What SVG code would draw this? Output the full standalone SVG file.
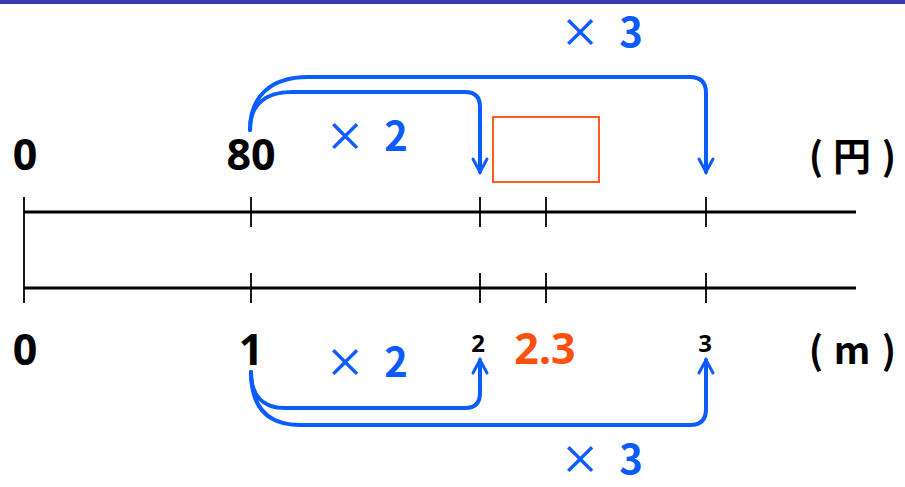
<svg xmlns="http://www.w3.org/2000/svg" width="905" height="487" viewBox="0 0 905 487">
<style>
.ax{stroke:#000;stroke-width:3;fill:none}
.tk{stroke:#000;stroke-width:1.8;fill:none}
.ar{stroke:#0a5cff;stroke-width:4;fill:none;stroke-linecap:round;stroke-linejoin:round}
.lb{font-family:"Noto Sans","Noto Sans CJK JP",sans-serif;font-weight:bold;fill:#000}
.un{font-family:"Noto Sans CJK JP",sans-serif;font-weight:bold;fill:#000;font-size:38px}
.bl{font-family:"Noto Sans CJK JP",sans-serif;font-weight:500;fill:#0a5cff;font-size:40px}
.bd{font-weight:bold}
</style>
<defs>
<marker id="ah" viewBox="0 0 20 20" refX="16" refY="10" markerWidth="20" markerHeight="20" markerUnits="userSpaceOnUse" orient="auto">
<path d="M3,3 L16,10 L3,17" fill="none" stroke="#0a5cff" stroke-width="3" stroke-linejoin="miter" stroke-linecap="round"/>
</marker>
</defs>
<rect x="0" y="0" width="905" height="487" fill="#fff"/>
<rect x="0" y="0" width="905" height="4" fill="#3a3ab0"/>
<g id="axes">
<line class="ax" x1="24" y1="212" x2="856" y2="212"/>
<line class="ax" x1="24" y1="288" x2="856" y2="288"/>
<line class="tk" x1="24" y1="197" x2="24" y2="303"/>
<line class="tk" x1="251" y1="197" x2="251" y2="227"/>
<line class="tk" x1="480" y1="197" x2="480" y2="227"/>
<line class="tk" x1="546" y1="197" x2="546" y2="227"/>
<line class="tk" x1="706" y1="197" x2="706" y2="227"/>
<line class="tk" x1="251" y1="273" x2="251" y2="303"/>
<line class="tk" x1="480" y1="273" x2="480" y2="303"/>
<line class="tk" x1="546" y1="273" x2="546" y2="303"/>
<line class="tk" x1="706" y1="273" x2="706" y2="303"/>
</g>
<g id="labels">
<text class="lb" x="25" y="170" font-size="43" text-anchor="middle">0</text>
<text class="lb" x="251" y="170" font-size="43" text-anchor="middle">80</text>
<text class="un" x="816 852 889" y="170" text-anchor="middle">(円)</text>
<text class="lb" x="25" y="365" font-size="43" text-anchor="middle">0</text>
<text class="lb" x="251" y="365" font-size="43" text-anchor="middle">1</text>
<text class="lb" x="478" y="352" font-size="24" text-anchor="middle">2</text>
<text class="lb" x="545" y="364" font-size="43" text-anchor="middle" style="fill:#ff5010">2.3</text>
<text class="lb" x="705" y="352" font-size="24" text-anchor="middle">3</text>
<text class="un" x="816 852 889" y="364" text-anchor="middle">(m)</text>
</g>
<g id="box">
<rect x="493" y="117" width="106" height="65" fill="none" stroke="#ff5a1f" stroke-width="2"/>
</g>
<g id="connectors">
<path class="ar" marker-end="url(#ah)" d="M250,130 C250,105 265,92 292,92 L465,92 Q480,92 480,107 L480,172"/>
<path class="ar" marker-end="url(#ah)" d="M250,130 C250,97 270,77 308,77 L690,77 Q706,77 706,93 L706,172"/>
<path class="ar" marker-end="url(#ah)" d="M251,372 C251,395 262,408 285,408 L465,408 Q480,408 480,393 L480,360"/>
<path class="ar" marker-end="url(#ah)" d="M251,372 C251,408 268,425 300,425 L690,425 Q706,425 706,409 L706,360"/>
</g>
<g id="mult">
<text class="bl" x="345" y="151" text-anchor="middle">×<tspan class="bd" x="396">2</tspan></text>
<text class="bl" x="580" y="47" text-anchor="middle">×<tspan class="bd" x="631">3</tspan></text>
<text class="bl" x="345" y="377" text-anchor="middle">×<tspan class="bd" x="396">2</tspan></text>
<text class="bl" x="580" y="474" text-anchor="middle">×<tspan class="bd" x="631">3</tspan></text>
</g>
</svg>
